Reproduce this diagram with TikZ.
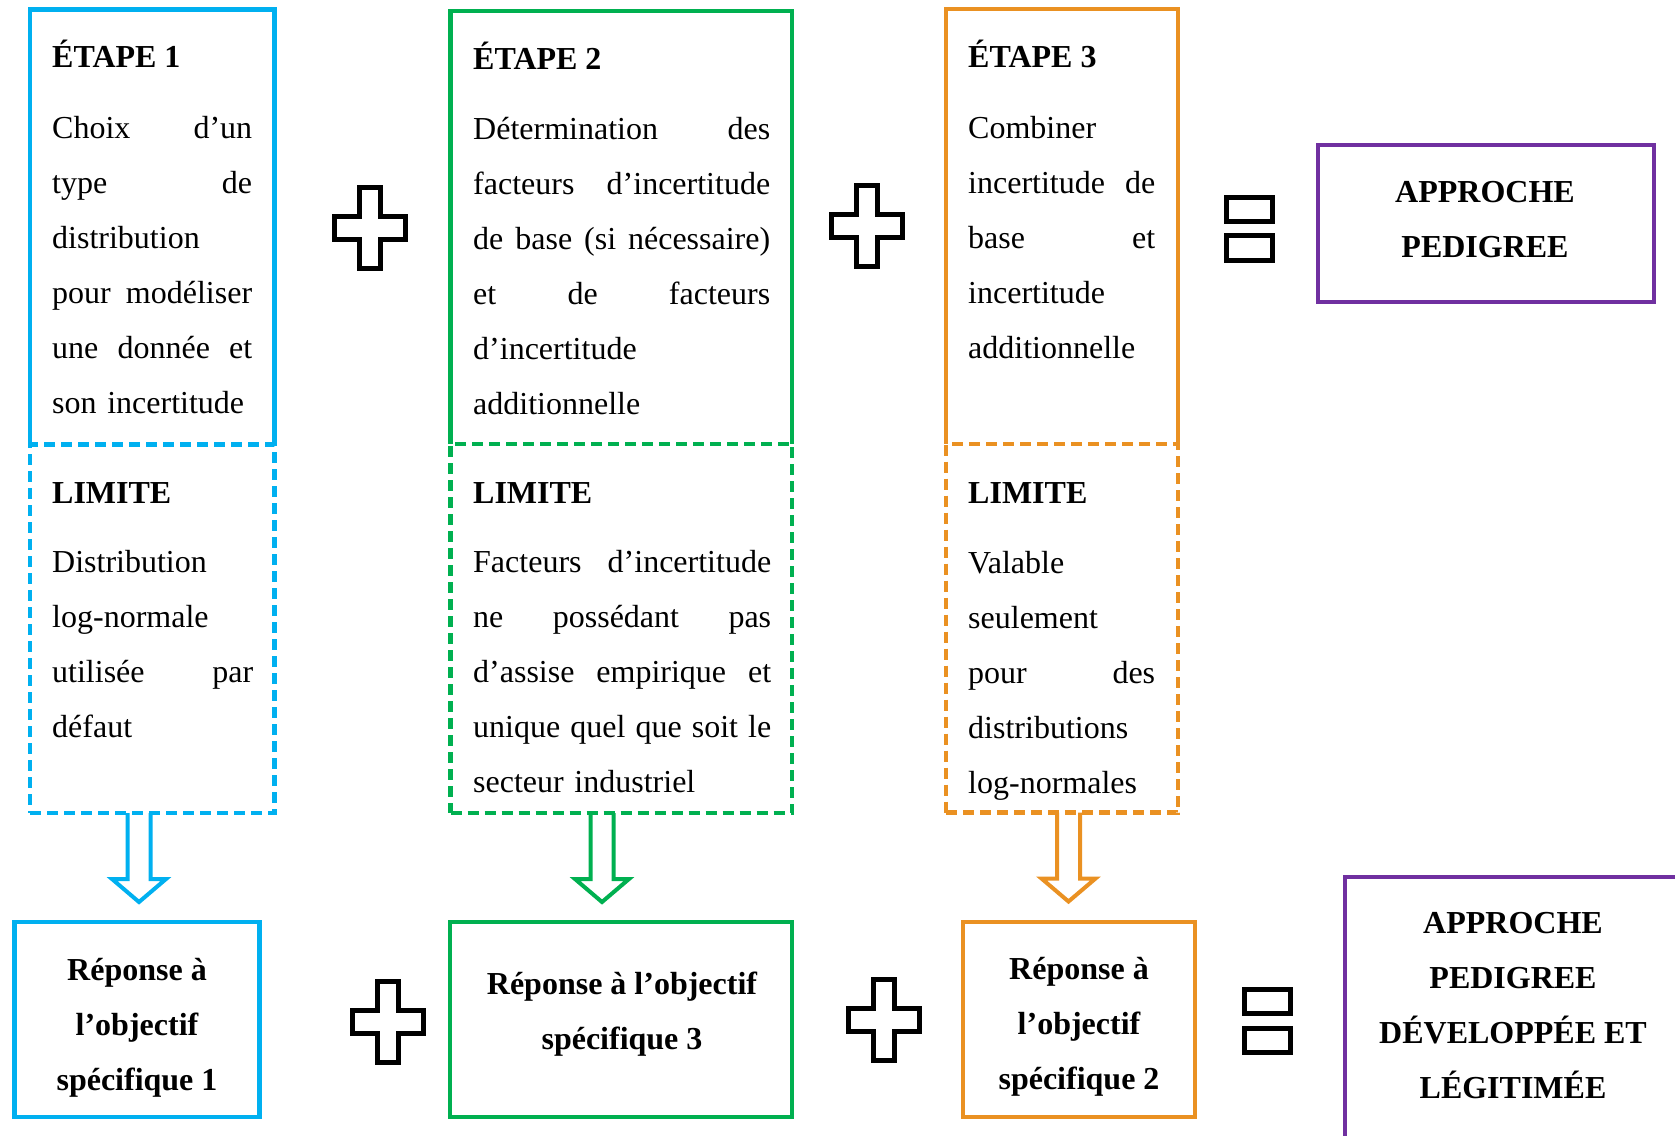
\documentclass[tikz,border=0pt]{standalone}
\usepackage{fontspec}
\setmainfont{Liberation Serif}
\definecolor{cblue}{HTML}{00B0F0}
\definecolor{cgreen}{HTML}{00B050}
\definecolor{corange}{HTML}{EA9122}
\definecolor{cpurple}{HTML}{7030A0}
\newcommand\jl[2]{\leavevmode\hbox to #1{#2}}
\tikzset{
  boxframe/.style={draw=#1, line width=4.5pt, outer sep=0pt, inner sep=0pt, rectangle},
  dashframe/.style={boxframe=#1, dash pattern=on 11pt off 6pt},
  bodytext/.style={anchor=north west, inner sep=0pt, align=left, font=\fontsize{32}{55}\selectfont},
  headtext/.style={anchor=base west, inner sep=0pt, font=\bfseries\fontsize{32}{55}\selectfont},
  ctext/.style={anchor=north, inner sep=0pt, align=center, font=\bfseries\fontsize{32}{55}\selectfont},
  harrow/.pic={\draw[line width=4pt, line join=miter] (-11.5,0) -- (-11.5,66) -- (-27,66) -- (0,89) -- (27,66) -- (11.5,66) -- (11.5,0);},
  plussign/.pic={\draw[line width=5pt, line join=miter] (-10.5,-40.5) -- (10.5,-40.5) -- (10.5,-11.5) -- (35.5,-11.5) -- (35.5,11.5) -- (10.5,11.5) -- (10.5,40.5) -- (-10.5,40.5) -- (-10.5,11.5) -- (-35.5,11.5) -- (-35.5,-11.5) -- (-10.5,-11.5) -- cycle;},
  eqsign/.pic={\draw[line width=5pt] (-23,-31.5) rectangle (23,-7.5) (-23,7) rectangle (23,31.5);}
}
\begin{document}
\begin{tikzpicture}[x=1pt,y=-1pt]
\clip (0,0) rectangle (1675,1135);
\fill[white] (0,0) rectangle (1675,1135);

% ---- Limit boxes (dashed) and step boxes (solid, open at bottom)
\node[dashframe=cblue, minimum width=244.5pt, minimum height=368.5pt] (l1) at (152.25,628.75) {};
\node[dashframe=cgreen, minimum width=341.5pt, minimum height=369pt] (l2) at (621.25,628.5) {};
\node[dashframe=corange, minimum width=232pt, minimum height=368.5pt] (l3) at (1062,628.25) {};
\draw[cblue, line width=4.5pt] (l1.north west) -- ++(0,-435) -| (l1.north east);
\draw[cgreen, line width=4.5pt] (l2.north west) -- ++(0,-433) -| (l2.north east);
\draw[corange, line width=4.5pt] (l3.north west) -- ++(0,-435) -| (l3.north east);

% ---- Step texts
\node[headtext] (h1) at (52,67) {ÉTAPE 1};
\node[bodytext, text width=201pt] (t1) at (52,99.5) {\strut\jl{200pt}{Choix\hfill d’un}\\ \jl{200pt}{type\hfill de}\\ distribution\\ \jl{200pt}{pour\hfill modéliser}\\ \jl{200pt}{une\hfill donnée\hfill et}\\ son incertitude};
\node[headtext] (h2) at (473,69) {ÉTAPE 2};
\node[bodytext, text width=298pt] (t2) at (473,100.5) {\strut\jl{297pt}{Détermination\hfill des}\\ \jl{297pt}{facteurs\hfill d’incertitude}\\ \jl{297pt}{de\hfill base\hfill (si\hfill nécessaire)}\\ \jl{297pt}{et\hfill de\hfill facteurs}\\ d’incertitude\\ additionnelle};
\node[headtext] (h3) at (968,67) {ÉTAPE 3};
\node[bodytext, text width=188pt] (t3) at (968,99.5) {\strut Combiner\\ \jl{187pt}{incertitude\hfill de}\\ \jl{187pt}{base\hfill et}\\ incertitude\\ additionnelle};

% ---- Limit texts
\node[headtext] (lh1) at (52,503) {LIMITE};
\node[bodytext, text width=202pt] (lt1) at (52,533.5) {\strut Distribution\\ log-normale\\ \jl{201pt}{utilisée\hfill par}\\ défaut};
\node[headtext] (lh2) at (473,503) {LIMITE};
\node[bodytext, text width=299pt] (lt2) at (473,533.5) {\strut\jl{298pt}{Facteurs\hfill d’incertitude}\\ \jl{298pt}{ne\hfill possédant\hfill pas}\\ \jl{298pt}{d’assise\hfill empirique\hfill et}\\ \jl{298pt}{unique\hfill quel\hfill que\hfill soit\hfill le}\\ secteur industriel};
\node[headtext] (lh3) at (968,503) {LIMITE};
\node[bodytext, text width=188pt] (lt3) at (968,534.5) {\strut Valable\\ seulement\\ \jl{187pt}{pour\hfill des}\\ distributions\\ log-normales};

% ---- Response boxes
\node[boxframe=cblue, minimum width=245pt, minimum height=195pt] (r1) at (137.2,1019.5) {};
\node[boxframe=cgreen, minimum width=342pt, minimum height=195pt] (r3) at (621,1019.5) {};
\node[boxframe=corange, minimum width=232pt, minimum height=195pt] (r2) at (1079,1019.5) {};
\node[ctext] (rt1) at (137,941.5) {\strut Réponse à\\ l’objectif\\ spécifique 1};
\node[ctext] (rt3) at (622,955.5) {\strut Réponse à l’objectif\\ spécifique 3};
\node[ctext] (rt2) at (1079,940.5) {\strut Réponse à\\ l’objectif\\ spécifique 2};

% ---- Purple result boxes
\node[boxframe=cpurple, minimum width=336pt, minimum height=157pt] (p1) at (1486,223.5) {};
\node[ctext] (pt1) at (1485,163.5) {\strut APPROCHE\\ PEDIGREE};
\node[boxframe=cpurple, minimum width=375pt, minimum height=303pt] (p2) at (1532.5,1028.5) {};
\node[ctext] (pt2) at (1513,894.5) {\strut APPROCHE\\ PEDIGREE\\ DÉVELOPPÉE ET\\ LÉGITIMÉE};

% ---- Hollow arrows from limit boxes to response boxes
\pic[color=cblue] at ([xshift=-13.25pt]l1.south) {harrow};
\pic[color=cgreen] at ([xshift=-19.25pt]l2.south) {harrow};
\pic[color=corange] at ([xshift=6.5pt]l3.south) {harrow};

% ---- Plus and equals signs
\pic at (370,228) {plussign};
\pic at (866.5,226) {plussign};
\pic at (387.5,1021.5) {plussign};
\pic at (884,1020) {plussign};
\pic at (1249.5,228.5) {eqsign};
\pic at (1267.5,1021) {eqsign};
\end{tikzpicture}
\end{document}
